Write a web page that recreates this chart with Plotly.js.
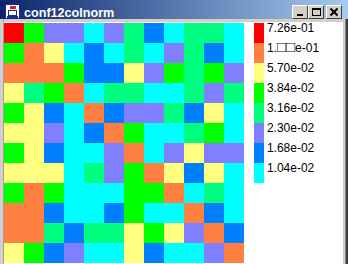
<!DOCTYPE html>
<html>
<head>
<meta charset="utf-8">
<script src="https://cdn.plot.ly/plotly-3.0.1.min.js"></script>
<style>
  html, body { margin: 0; padding: 0; background: #d4d0c8; }
  #win { position: relative; width: 348px; height: 264px; overflow: hidden; background: #d4d0c8; }
  #titlebar { position: absolute; left: 0; top: 0; width: 348px; height: 19px;
              background: linear-gradient(to right, #0a246a, #a6caf0); }
  #content { position: absolute; left: 4px; top: 22px; width: 339px; height: 242px; background: #ffffff; }
  #lb1 { position: absolute; left: 3px; top: 19px; width: 1px; height: 245px; background: #a0a0a0; }
  #rb1 { position: absolute; left: 345px; top: 19px; width: 1px; height: 245px; background: #808080; }
  #rb2 { position: absolute; left: 346px; top: 19px; width: 2px; height: 245px; background: #404040; }
  .btn { position: absolute; top: 5px; width: 16px; height: 14px; box-sizing: border-box; background: #d4d0c8;
         border-top: 1px solid #ffffff; border-left: 1px solid #ffffff;
         border-right: 1px solid #404040; border-bottom: 1px solid #404040; }
  .glyph { position: absolute; background: #000; }
  #icon { position: absolute; left: 5px; top: 4px; width: 15px; height: 15px; background: #ffffff; box-sizing: border-box; border: 1px solid #1a2a8a; }
  #plot { position: absolute; left: 0; top: 0; width: 348px; height: 264px; }
</style>
</head>
<body>
<div id="win">
  <div id="titlebar"></div>
  <div id="icon">
    <div style="position:absolute;left:4px;top:1px;width:6px;height:3px;background:#e02020;"></div>
    <div style="position:absolute;left:2px;top:5px;width:9px;height:6px;border:1px solid #1a2a8a;box-sizing:border-box;"></div>
    <div style="position:absolute;left:1px;top:11px;width:11px;height:2px;background:#1a2a8a;"></div>
  </div>
  <div class="btn" style="left:292px;"><div class="glyph" style="left:4px;top:8px;width:6px;height:2px;"></div></div>
  <div class="btn" style="left:308px;"><div class="glyph" style="left:3px;top:2px;width:9px;height:8px;background:transparent;border:1px solid #000;border-top-width:2px;box-sizing:border-box;"></div></div>
  <div class="btn" style="left:326px;">
    <div class="glyph" style="left:6px;top:1px;width:2px;height:10px;transform:rotate(45deg);"></div>
    <div class="glyph" style="left:6px;top:1px;width:2px;height:10px;transform:rotate(-45deg);"></div>
  </div>
  <div id="content"></div>
  <div id="lb1"></div>
  <div id="rb1"></div>
  <div id="rb2"></div>
  <div id="plot"></div>
</div>
<script>
// Legend levels (bottom to top) and their colours
var levelLabels = ["1.04e-02", "1.68e-02", "2.30e-02", "3.16e-02", "3.84e-02", "5.70e-02",
                   "1.<span style='font-size:15px'>\u25A1\u25A1</span>e-01", "7.26e-01"];
var levelColors = ["#00ffff", "#0080ff", "#8080ff", "#00ff80", "#00ff00", "#ffff80", "#ff8040", "#ff0000"];

// Cell level index per row (top row first), 12 x 12
var row0  = [7,4,2,2,0,2,3,1,0,3,3,0];
var row1  = [4,6,5,0,1,0,3,0,2,3,1,0];
var row2  = [6,6,6,4,1,1,5,2,4,3,4,2];
var row3  = [5,3,4,6,0,3,3,0,0,3,2,3];
var row4  = [4,5,1,0,6,1,2,2,3,1,5,0];
var row5  = [5,5,2,0,1,6,4,0,0,3,4,0];
var row6  = [4,5,1,0,0,2,6,0,2,5,2,2];
var row7  = [5,5,5,0,3,2,4,6,5,1,5,0];
var row8  = [4,6,4,0,0,0,4,4,6,0,3,0];
var row9  = [6,6,1,0,0,1,4,0,0,6,1,0];
var row10 = [6,6,3,1,3,3,5,4,5,2,6,1];
var row11 = [5,4,1,2,0,0,5,1,0,0,2,6];
var cellLevels = [row0,row1,row2,row3,row4,row5,row6,row7,row8,row9,row10,row11];

var n = levelColors.length;
var colorscale = [];
for (var i = 0; i < n; i++) {
  colorscale.push([i / n, levelColors[i]]);
  colorscale.push([(i + 1) / n, levelColors[i]]);
}
var tickvals = levelLabels.map(function (_, i) { return i + 0.24; });

var W = 348, H = 264;
var mL = 4, mR = 104, mT = 23, mB = 1;
var plotW = W - mL - mR;

var trace = {
  type: "heatmap",
  z: cellLevels,
  zmin: -0.5, zmax: n - 0.5,
  colorscale: colorscale,
  xgap: 0, ygap: 0,
  hoverinfo: "skip",
  colorbar: {
    x: (254 - mL) / plotW, xanchor: "left", xref: "paper",
    y: 1, yanchor: "top", yref: "paper",
    len: 160, lenmode: "pixels",
    thickness: 10, thicknessmode: "pixels",
    xpad: 0, ypad: 0,
    outlinewidth: 0, borderwidth: 0,
    ticks: "", ticklen: 0,
    tickvals: tickvals, ticktext: levelLabels,
    tickfont: { family: "Liberation Sans, Arial, sans-serif", size: 12, color: "#000000" },
    bgcolor: "rgba(0,0,0,0)"
  }
};

var layout = {
  width: W, height: H,
  margin: { l: mL, r: mR, t: mT, b: mB, pad: 0 },
  paper_bgcolor: "rgba(0,0,0,0)",
  plot_bgcolor: "#ffffff",
  title: {
    text: "conf12colnorm",
    font: { family: "Liberation Sans, Arial, sans-serif", size: 12.6, color: "#ffffff", weight: "bold" },
    x: 24 / W, xanchor: "left", xref: "container",
    y: 1 - 12.8 / H, yanchor: "middle", yref: "container"
  },
  xaxis: { visible: false, showgrid: false, zeroline: false, range: [-0.5, 11.5], fixedrange: true },
  yaxis: { visible: false, showgrid: false, zeroline: false, range: [11.5, -0.5], fixedrange: true },
  showlegend: false
};

Plotly.newPlot("plot", [trace], layout, { displayModeBar: false, staticPlot: true });
</script>
</body>
</html>
